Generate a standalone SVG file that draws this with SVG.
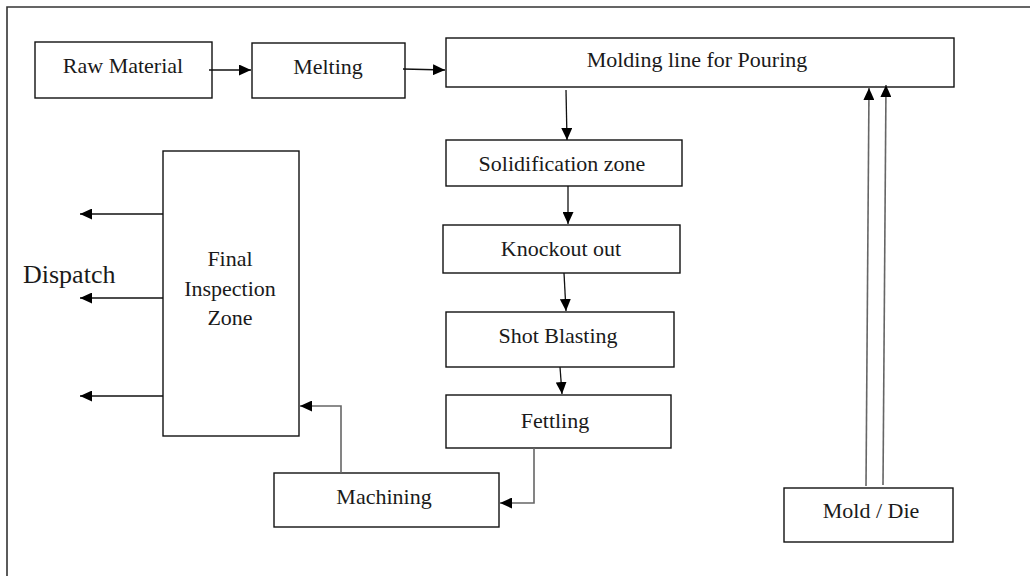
<svg xmlns="http://www.w3.org/2000/svg" width="1030" height="576" viewBox="0 0 1030 576">
  <defs>
    <style>
      .box { fill: #fff; stroke: #111; stroke-width: 1.4; }
      .lbl { text-anchor: middle; }
      .con { fill: none; stroke: #111; stroke-width: 1.3; }
      .con-g { fill: none; stroke: #666; stroke-width: 1.6; }
    </style>
    <marker id="ah" viewBox="0 0 12 11" refX="12" refY="5.5" markerWidth="12" markerHeight="11" markerUnits="userSpaceOnUse" orient="auto">
      <path d="M0,0 L12,5.5 L0,11 z" fill="#000"/>
    </marker>
  </defs>

  <rect width="1030" height="576" fill="#fff"/>
  <!-- page frame, open to the right and bottom -->
  <path d="M7,580 L7,7 L1034,7" fill="none" stroke="#333" stroke-width="1.6"/>

  <g font-family="Liberation Serif, Times New Roman, serif" font-size="22" fill="#1a1a1a">
    <g id="raw-material">
      <rect class="box" x="35" y="42" width="177" height="56"/>
      <text class="lbl" x="123" y="73">Raw Material</text>
    </g>
    <g id="melting">
      <rect class="box" x="252" y="43" width="153" height="55"/>
      <text class="lbl" x="328" y="74">Melting</text>
    </g>
    <g id="molding-line">
      <rect class="box" x="446" y="38" width="508" height="49"/>
      <text class="lbl" x="697" y="67">Molding line for Pouring</text>
    </g>
    <g id="solidification">
      <rect class="box" x="446" y="140" width="236" height="46"/>
      <text class="lbl" x="562" y="171">Solidification zone</text>
    </g>
    <g id="knockout">
      <rect class="box" x="443" y="225" width="237" height="48"/>
      <text class="lbl" x="561" y="256">Knockout out</text>
    </g>
    <g id="shot-blasting">
      <rect class="box" x="446" y="312" width="228" height="55"/>
      <text class="lbl" x="558" y="343">Shot Blasting</text>
    </g>
    <g id="fettling">
      <rect class="box" x="446" y="395" width="225" height="53"/>
      <text class="lbl" x="555" y="428">Fettling</text>
    </g>
    <g id="machining">
      <rect class="box" x="274" y="473" width="225" height="54"/>
      <text class="lbl" x="384" y="504">Machining</text>
    </g>
    <g id="final-inspection">
      <rect class="box" x="163" y="151" width="136" height="285"/>
      <text class="lbl" x="230" y="266">Final</text>
      <text class="lbl" x="230" y="296">Inspection</text>
      <text class="lbl" x="230" y="325">Zone</text>
    </g>
    <g id="mold-die">
      <rect class="box" x="784" y="488" width="169" height="54"/>
      <text class="lbl" x="871" y="518">Mold / Die</text>
    </g>
    <g id="dispatch">
      <text x="23" y="283" font-size="26">Dispatch</text>
    </g>
  </g>

  <g id="connectors">
    <line class="con" x1="209" y1="70" x2="251" y2="70" marker-end="url(#ah)"/>
    <line class="con" x1="403" y1="69" x2="445" y2="70" marker-end="url(#ah)"/>
    <line class="con" x1="566" y1="90" x2="567" y2="140" marker-end="url(#ah)"/>
    <line class="con" x1="568" y1="186" x2="568" y2="224" marker-end="url(#ah)"/>
    <line class="con" x1="564" y1="273" x2="566" y2="311" marker-end="url(#ah)"/>
    <line class="con" x1="560" y1="367" x2="562" y2="394" marker-end="url(#ah)"/>
    <polyline class="con-g" points="534,448 534,503 500,503" marker-end="url(#ah)"/>
    <polyline class="con-g" points="341,473 341,406 300,406" marker-end="url(#ah)"/>
    <line class="con" x1="163" y1="214" x2="80" y2="214" marker-end="url(#ah)"/>
    <line class="con" x1="163" y1="298" x2="80" y2="298" marker-end="url(#ah)"/>
    <line class="con" x1="163" y1="396" x2="80" y2="396" marker-end="url(#ah)"/>
    <line class="con-g" x1="866" y1="486" x2="869" y2="88" marker-end="url(#ah)"/>
    <line class="con-g" x1="883" y1="485" x2="886" y2="85" marker-end="url(#ah)"/>
  </g>
</svg>
